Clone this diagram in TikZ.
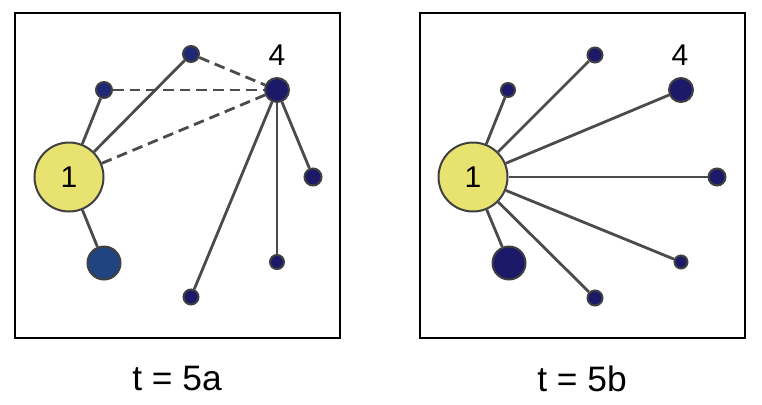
\documentclass[tikz,border=0pt]{standalone}
\usepackage{fontspec}
\setmainfont{Liberation Sans}
\usetikzlibrary{positioning}
\definecolor{hubyellow}{HTML}{E8E271}
\definecolor{navy}{HTML}{1C1A68}
\definecolor{navyblue}{HTML}{1F2874}
\definecolor{midblue}{HTML}{1F4480}
\definecolor{edgegray}{HTML}{4B4B4B}
\definecolor{rimgray}{HTML}{404040}
\begin{document}
\begin{tikzpicture}[x=0.75pt,y=-0.75pt,
      vtx/.style={circle,draw=rimgray,line width=1.5pt,inner sep=0pt,fill=navy},
      hub/.style={vtx,fill=hubyellow,minimum size=51.75pt,font=\fontsize{22.5}{22.5}\selectfont},
      big/.style={vtx,minimum size=24.75pt},
      mid/.style={vtx,minimum size=18pt},
      small/.style={vtx,minimum size=12pt},
      tiny/.style={vtx,minimum size=10.5pt},
      num/.style={inner sep=0pt,font=\fontsize{22.5}{22.5}\selectfont},
      caption/.style={inner sep=0pt,font=\fontsize{26.5}{26.5}\selectfont},
      panel/.style={draw=black,line width=1.5pt},
      link/.style={draw=edgegray,line width=2.1pt},
      weak/.style={link,dash pattern=on 8pt off 4.5pt}]
    \useasboundingbox (0,0) rectangle (762,404);
    \draw[panel] (15,13) rectangle (340,338);
    \draw[panel] (420,13) rectangle (745,338);
    \node[hub] (a1) at (69,177) {1};
    \node[small,fill=navyblue] (a2) at (104,90) {};
    \node[small,fill=navyblue] (a3) at (191,54) {};
    \node[mid] (a4) at (277,90) {};
    \node[small,minimum size=12.75pt] (a5) at (313,177) {};
    \node[tiny] (a6) at (277,262) {};
    \node[tiny,minimum size=11.25pt] (a7) at (191,297) {};
    \node[big,fill=midblue] (a8) at (104,263) {};
    \node[num] (n4a) at (277,55) {4};
    \node[hub] (b1) at (473,177) {1};
    \node[small,minimum size=10.5pt] (b2) at (508,90) {};
    \node[small,minimum size=11.25pt] (b3) at (595,55) {};
    \node[mid] (b4) at (681,90) {};
    \node[small,minimum size=12.75pt] (b5) at (717,177) {};
    \node[tiny,minimum size=9.75pt] (b6) at (681,262) {};
    \node[tiny,minimum size=11.25pt] (b7) at (595,298) {};
    \node[big] (b8) at (509,263) {};
    \node[num] (n4b) at (680,55) {4};
    \node[caption] (capa) at (177,378.5) {t = 5a};
    \node[caption] (capb) at (582,378.5) {t = 5b};
    \draw[link] (a1) -- (a2);
    \draw[link] (a1) -- (a3);
    \draw[link] (a1) -- (a8);
    \draw[weak] (a1) -- (a4);
    \draw[weak] (a2) -- (a4);
    \draw[weak] (a3) -- (a4);
    \draw[link] (a4) -- (a5);
    \draw[link] (a4) -- (a6);
    \draw[link] (a4) -- (a7);
    \foreach \i in {2,...,8}
      \draw[link] (b1) -- (b\i);
  \end{tikzpicture}
\end{document}
